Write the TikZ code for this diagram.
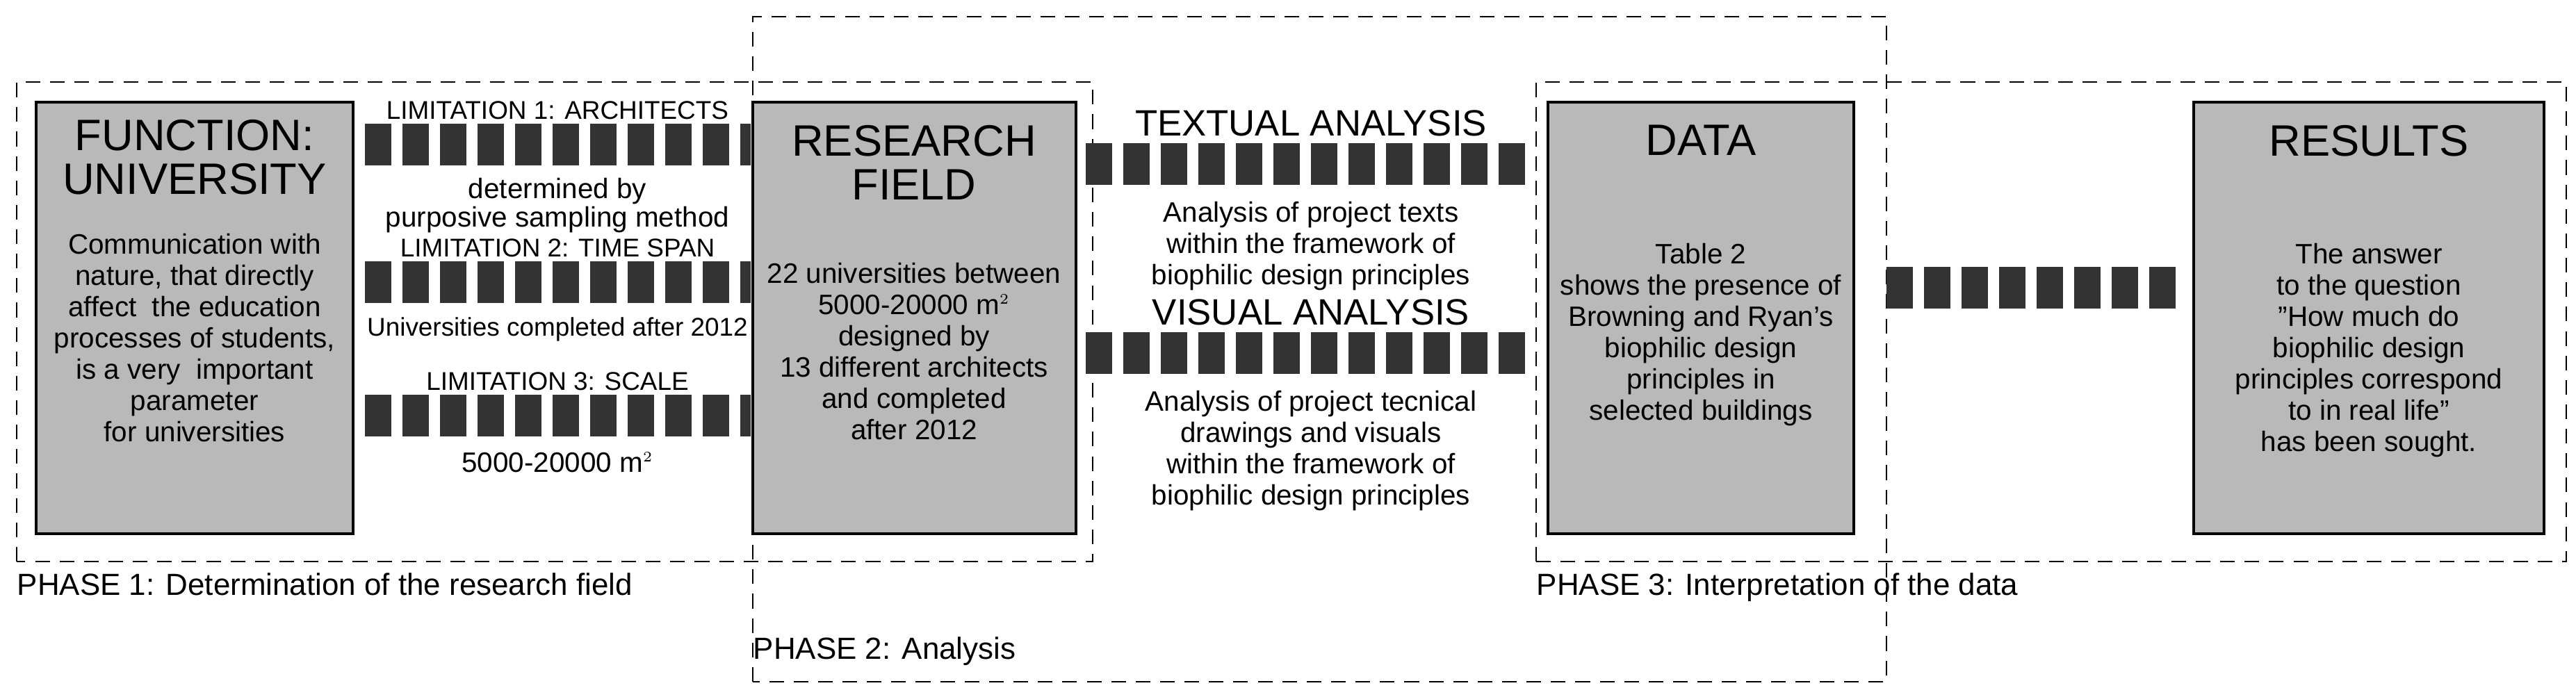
\documentclass[tikz,border=0pt]{standalone}
\usepackage{fontspec}
\setmainfont{Liberation Sans}
\begin{document}
\begin{tikzpicture}[
    phase/.style={draw, dashed, line width=0.7pt, dash pattern=on 6pt off 4pt},
    box/.style={draw, line width=1.3pt, fill=gray!55},
    band/.style={line width=0.6cm, draw=black!80, dash pattern=on 0.38cm off 0.16cm},
    title/.style={font=\fontsize{18}{18}\selectfont, align=center, anchor=north},
    body/.style={font=\fontsize{11.5}{12.8}\selectfont, align=center, anchor=north},
    lim/.style={font=\fontsize{10.5}{12}\selectfont, align=center, anchor=south, inner sep=1pt},
    ana/.style={font=\fontsize{15}{16}\selectfont, align=center, anchor=south, inner sep=1pt},
    lab/.style={font=\fontsize{12.5}{14}\selectfont, anchor=north west, inner sep=0pt}]
        \useasboundingbox (0,0) rectangle (37.06,9.9);

        % phases
        \draw[phase] (0.24,1.82) rectangle (15.72,8.72);
        \draw[phase] (10.83,0.09) rectangle (27.14,9.66);
        \draw[phase] (22.10,1.82) rectangle (36.92,8.72);
        \node[lab] (p1) at (0.24,1.66) {PHASE 1: Determination of the research field};
        \node[lab] (p2) at (10.83,0.74) {PHASE 2: Analysis};
        \node[lab] (p3) at (22.10,1.66) {PHASE 3: Interpretation of the data};

        % boxes
        \draw[box] (0.52,2.22) rectangle (5.08,8.43);
        \draw[box] (10.83,2.22) rectangle (15.48,8.43);
        \draw[box] (22.27,2.22) rectangle (26.67,8.43);
        \draw[box] (31.56,2.22) rectangle (36.60,8.43);

        % bands
        \coordinate (l1a) at (5.25,7.82); \coordinate (l1b) at (10.80,7.82);
        \coordinate (l2a) at (5.25,5.84); \coordinate (l2b) at (10.80,5.84);
        \coordinate (l3a) at (5.25,3.92); \coordinate (l3b) at (10.80,3.92);
        \coordinate (ta) at (15.62,7.54); \coordinate (tb) at (22.10,7.54);
        \coordinate (va) at (15.62,4.82); \coordinate (vb) at (22.10,4.82);
        \coordinate (ma) at (27.14,5.76); \coordinate (mb) at (31.40,5.76);
        \foreach \a/\b in {l1a/l1b,l2a/l2b,l3a/l3b,ta/tb,va/vb,ma/mb}
            \draw[band] (\a) -- (\b);

        % function
        \node[title] (fun) at (2.80,8.30) {FUNCTION:\\UNIVERSITY};
        \node[body] (funb) at (2.80,6.66) {Communication with\\nature, that directly\\affect\ \ the education\\processes of students,\\is a very\ \ important\\parameter\\for universities};

        % limitations
        \node[lim] (lim1) at (8.02,8.14) {LIMITATION 1: ARCHITECTS};
        \node[body, font=\fontsize{11.5}{11.5}\selectfont] (lim1b) at (8.02,7.46) {determined by\\purposive sampling method};
        \node[lim] (lim2) at (8.02,6.16) {LIMITATION 2: TIME SPAN};
        \node[body, font=\fontsize{10.5}{12}\selectfont] (lim2b) at (8.02,5.46) {Universities completed after 2012};
        \node[lim] (lim3) at (8.02,4.24) {LIMITATION 3: SCALE};
        \node[body] (lim3b) at (8.02,3.52) {5000-20000 m$^{\scriptscriptstyle 2}$};

        % research field
        \node[title] (res) at (13.15,8.22) {RESEARCH\\FIELD};
        \node[body] (resb) at (13.15,6.24) {22 universities between\\5000-20000 m$^{\scriptscriptstyle 2}$\\designed by\\13 different architects\\and completed\\after 2012};

        % analysis
        \node[ana] (txt) at (18.86,7.90) {TEXTUAL ANALYSIS};
        \node[body] (txtb) at (18.86,7.12) {Analysis of project texts\\within the framework of\\biophilic design principles};
        \node[ana] (vis) at (18.86,5.18) {VISUAL ANALYSIS};
        \node[body] (visb) at (18.86,4.40) {Analysis of project tecnical\\drawings and visuals\\within the framework of\\biophilic design principles};

        % data
        \node[title] (dat) at (24.47,8.22) {DATA};
        \node[body] (datb) at (24.47,6.52) {Table 2\\shows the presence of\\Browning and Ryan's\\biophilic design\\principles in\\selected buildings};

        % results
        \node[title] (rsl) at (34.08,8.22) {RESULTS};
        \node[body] (rslb) at (34.08,6.52) {The answer\\to the question\\"How much do\\biophilic design\\principles correspond\\to in real life"\\has been sought.};
      \end{tikzpicture}
\end{document}
